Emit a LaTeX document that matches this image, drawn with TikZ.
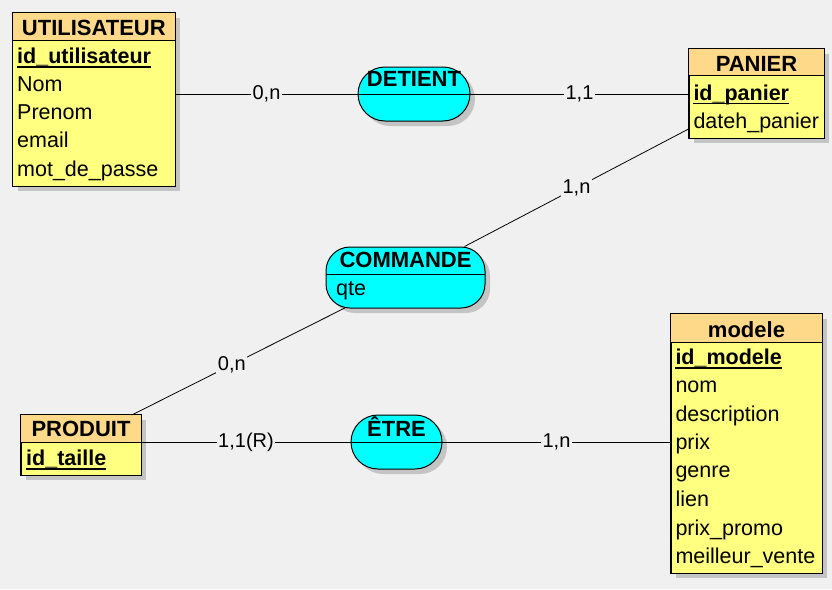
\documentclass[tikz,border=0pt]{standalone}
\usepackage{fontspec}
\setmainfont{Liberation Sans}
\usetikzlibrary{shadows,calc}
\definecolor{bg}{HTML}{F0F0F0}
\definecolor{hdr}{HTML}{FFD98A}
\definecolor{bodyc}{HTML}{FFFF80}
\definecolor{assoc}{HTML}{00FFFF}
\definecolor{shd}{HTML}{C4C4C4}
\begin{document}
\begin{tikzpicture}[x=1pt,y=-1pt,
  entity/.style={draw=black, line width=1pt, fill=bodyc, inner sep=0pt,
    drop shadow={shadow xshift=5pt, shadow yshift=-5pt, fill=shd, opacity=1}},
  assocbox/.style={draw=black, line width=1pt, fill=assoc, inner sep=0pt,
    drop shadow={shadow xshift=5pt, shadow yshift=-5pt, fill=shd, opacity=1}},
  ttl/.style={font=\fontsize{22}{24}\selectfont\bfseries, inner sep=0pt, anchor=base},
  attr/.style={font=\fontsize{21.5}{24}\selectfont, inner sep=0pt, anchor=base west},
  keyattr/.style={font=\fontsize{21.5}{24}\selectfont\bfseries, inner sep=0pt, anchor=base west},
  card/.style={font=\fontsize{20}{22}\selectfont, fill=bg, inner sep=1.5pt},
  link/.style={line width=0.8pt},
  sep/.style={line width=1pt},
  uline/.style={line width=1.3pt}]
\fill[bg] (0,0) rectangle (832,589);
\useasboundingbox (0,0) rectangle (832,589);

% ---------- UTILISATEUR ----------
\node[entity, minimum width=162.3pt, minimum height=173.3pt] (util) at (93.85,99.35) {};
\fill[hdr] (util.north west) rectangle (175,40);
\draw[sep] (12.7,40) -- (175,40);
\draw[line width=1pt] (util.north west) rectangle (util.south east);
\node[ttl] (utilT) at (93.85,35) {UTILISATEUR};
\node[keyattr] (utilK) at (17,63.3) {id\_utilisateur};
\draw[uline] ([yshift=-3.6pt]utilK.base west) -- ([yshift=-3.6pt]utilK.base east);
\node[attr] (utilA1) at (17,91) {Nom};
\node[attr] (utilA2) at (17,119.3) {Prenom};
\node[attr] (utilA3) at (17,147.7) {email};
\node[attr] (utilA4) at (17,176) {mot\_de\_passe};

% ---------- PANIER ----------
\node[entity, minimum width=135pt, minimum height=89pt] (pan) at (756.5,93.5) {};
\fill[hdr] (pan.north west) rectangle (824,75);
\draw[sep] (689,75) -- (824,75);
\draw[line width=1pt] (pan.north west) rectangle (pan.south east);
\node[ttl] (panT) at (756.5,71.7) {PANIER};
\node[keyattr] (panK) at (693.3,100) {id\_panier};
\draw[uline] ([yshift=-3.6pt]panK.base west) -- ([yshift=-3.6pt]panK.base east);
\node[attr] (panA1) at (693.3,128.5) {dateh\_panier};

% ---------- modele ----------
\node[entity, minimum width=151pt, minimum height=259pt] (mod) at (746.5,443.5) {};
\fill[hdr] (mod.north west) rectangle (822,342);
\draw[sep] (671,342) -- (822,342);
\draw[line width=1pt] (mod.north west) rectangle (mod.south east);
\node[ttl] (modT) at (746.5,337.3) {modele};
\node[keyattr] (modK) at (675.3,364.3) {id\_modele};
\draw[uline] ([yshift=-3.8pt]modK.base west) -- ([yshift=-3.8pt]modK.base east);
\node[attr] (modA1) at (675.3,392.5) {nom};
\node[attr] (modA2) at (675.3,421) {description};
\node[attr] (modA3) at (675.3,449.3) {prix};
\node[attr] (modA4) at (675.3,477.7) {genre};
\node[attr] (modA5) at (675.3,506.3) {lien};
\node[attr] (modA6) at (675.3,535) {prix\_promo};
\node[attr] (modA7) at (675.3,563.3) {meilleur\_vente};

% ---------- PRODUIT ----------
\node[entity, minimum width=120pt, minimum height=60pt] (prod) at (81,445) {};
\fill[hdr] (prod.north west) rectangle (141,442);
\draw[sep] (21,442) -- (141,442);
\draw[line width=1pt] (prod.north west) rectangle (prod.south east);
\node[ttl] (prodT) at (81,436) {PRODUIT};
\node[keyattr] (prodK) at (26,465) {id\_taille};
\draw[uline] ([yshift=-4pt]prodK.base west) -- ([yshift=-4pt]prodK.base east);
\coordinate (prodC) at (72,445);

% ---------- associations ----------
\node[assocbox, rounded corners=27pt, minimum width=112pt, minimum height=54pt] (det) at (414,94) {};
\draw[sep] (det.west) -- (det.east);
\node[ttl] (detT) at (414,86.7) {DETIENT};

\node[assocbox, rounded corners=24pt, minimum width=159pt, minimum height=61pt] (cmd) at (405.5,277.5) {};
\draw[sep] (326,274) -- (485,274);
\node[ttl] (cmdT) at (405.5,267.3) {COMMANDE};
\node[attr] (cmdA1) at (336,295.5) {qte};

\node[assocbox, rounded corners=27pt, minimum width=91pt, minimum height=54pt] (etre) at (396.5,442) {};
\draw[sep] (etre.west) -- (etre.east);
\node[ttl] (etreT) at (396.5,436) {ÊTRE};

% ---------- connectors ----------
\draw[link] (det.west) -- (det.west -| util.east) node[midway, card] {0,n};
\draw[link] (det.east) -- (det.east -| pan.west) node[midway, card] {1,1};
\draw[link] (cmd) -- (pan) node[midway, card] {1,n};
\draw[link] ($(cmd)!{30.5/167.5}!(prodC)$) -- ($(prodC)!{30/167.5}!(cmd)$) node[pos=0.53, card] {0,n};
\draw[link] (etre.west) -- (etre.west -| prod.east) node[midway, card] {1,1(R)};
\draw[link] (etre.east) -- (etre.east -| mod.west) node[midway, card] {1,n};
\end{tikzpicture}
\end{document}
